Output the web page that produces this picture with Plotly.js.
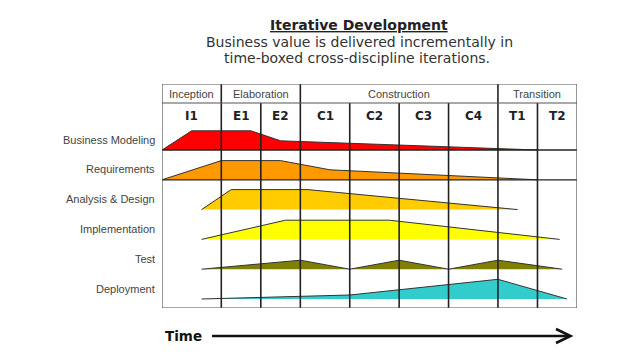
<!DOCTYPE html>
<html><head><meta charset="utf-8">
<script src="https://cdn.plot.ly/plotly-3.0.1.min.js"></script>
<style>html,body{margin:0;padding:0;background:#fff;} #chart{width:640px;height:360px;}</style>
</head><body><div id="chart"></div>
<script>
// ---- data ----
const iterations = ['I1','E1','E2','C1','C2','C3','C4','T1','T2'];
const iterationWeeks = [12,8,8,10,10,10,10,8,8];
const phases = ['Inception','Elaboration','Construction','Transition'];
const phaseIterationCounts = [1,2,4,2];
const disciplines = ['Business Modeling','Requirements','Analysis & Design','Implementation','Test','Deployment'];

const businessModelingWeeks  = [0, 6, 18, 24, 76];
const businessModelingEffort = [0, 9.6, 9.6, 4.6, 0];
const requirementsWeeks  = [0, 12, 24, 34, 76];
const requirementsEffort = [0, 9.6, 9.6, 5, 0];
const analysisDesignWeeks  = [8, 14, 29.5, 72];
const analysisDesignEffort = [0, 10, 10, 0];
const implementationWeeks  = [8, 25, 46, 80.5];
const implementationEffort = [0, 9.6, 9.6, 0];
const testWeeks  = [8, 28, 38, 48, 58, 68, 81];
const testEffort = [0, 4.5, 0, 4.5, 0, 4.5, 0];
const deploymentWeeks  = [8, 38, 68, 82];
const deploymentEffort = [0, 2, 9.85, 0];

// ---- styles / layout ----
const disciplineColors = ['#ff0000','#ff9900','#ffcc00','#ffff00','#808000','#33cccc'];
const fullBaseline = [true, true, false, false, false, false];
const series = [
  [businessModelingWeeks, businessModelingEffort],
  [requirementsWeeks, requirementsEffort],
  [analysisDesignWeeks, analysisDesignEffort],
  [implementationWeeks, implementationEffort],
  [testWeeks, testEffort],
  [deploymentWeeks, deploymentEffort]
];

const edges = [0];
iterationWeeks.forEach(w => edges.push(edges[edges.length-1] + w));
const total = edges[edges.length-1];
const phaseEdges = [0];
{ let k = 0; phaseIterationCounts.forEach(c => { k += c; phaseEdges.push(edges[k]); }); }

const Y_TOP = 112, Y_HEADER = 102.5, LANE0 = 4.5, LANE_STEP = 14.9;
const n = disciplines.length;
const baseOf = i => LANE0 + LANE_STEP * (n - 1 - i);

const L = 162, R = 63, T = 84, B = 52, W = 640, H = 360;
const pw = W - L - R, ph = H - T - B;
const px = x => (x - L) / pw;
const py = y => (H - B - y) / ph;

const traces = series.map((s, i) => ({
  type: 'scatter', mode: 'lines', fill: 'toself',
  x: s[0], y: s[1].map(v => v + baseOf(i)),
  fillcolor: disciplineColors[i],
  line: {color: '#333', width: 1},
  hoverinfo: 'skip'
}));

const shapes = [];
// full baselines
disciplines.forEach((d, i) => {
  if (fullBaseline[i]) shapes.push({type:'line', xref:'x', yref:'y', x0: edges[0], x1: total, y0: baseOf(i), y1: baseOf(i), line:{color:'#222', width:1.3}, layer:'above'});
});
// internal verticals
edges.slice(1, -1).forEach(e => {
  const isPhase = phaseEdges.includes(e);
  shapes.push({type:'line', xref:'x', yref:'y', x0:e, x1:e, y0:0, y1: isPhase ? Y_TOP : Y_HEADER, line:{color:'#222', width:1.6}, layer:'above'});
});
// header divider and border
shapes.push({type:'line', xref:'x', yref:'y', x0:0, x1:total, y0:Y_HEADER, y1:Y_HEADER, line:{color:'#555', width:1.2}, layer:'above'});
shapes.push({type:'rect', xref:'x', yref:'y', x0:0, x1:total, y0:0, y1:Y_TOP, line:{color:'#555', width:1.2}, layer:'above'});
// time arrow
shapes.push({type:'line', xref:'paper', yref:'paper', x0:px(212), x1:px(570), y0:py(336), y1:py(336), line:{color:'#111', width:2.6}});
shapes.push({type:'path', xref:'paper', yref:'paper', path:`M ${px(556)} ${py(329)} L ${px(570.5)} ${py(336)} L ${px(556)} ${py(343)}`, line:{color:'#111', width:2.6}});

const annotations = [];
// title
annotations.push({xref:'paper', yref:'paper', x:px(359), y:py(25), xanchor:'center', yanchor:'middle', showarrow:false,
  text:'<b><u>Iterative Development</u></b>', font:{family:'DejaVu Sans', size:14, color:'#222'}});
annotations.push({xref:'paper', yref:'paper', x:px(359), y:py(41.5), xanchor:'center', yanchor:'middle', showarrow:false,
  text:'Business value is delivered incrementally in', font:{family:'DejaVu Sans', size:14, color:'#333'}});
annotations.push({xref:'paper', yref:'paper', x:px(357), y:py(58.5), xanchor:'center', yanchor:'middle', showarrow:false,
  text:'time-boxed cross-discipline iterations.', font:{family:'DejaVu Sans', size:14, color:'#333'}});
// phases
phases.forEach((p, i) => annotations.push({xref:'x', yref:'y', x:(phaseEdges[i]+phaseEdges[i+1])/2, y:(Y_TOP+Y_HEADER)/2,
  xanchor:'center', yanchor:'middle', showarrow:false, text:p, font:{family:'Liberation Sans', size:11, color:'#444'}}));
// iterations
iterations.forEach((it, i) => annotations.push({xref:'x', yref:'y', x:(edges[i]+edges[i+1])/2, y:96.2,
  xanchor:'center', yanchor:'middle', showarrow:false, text:'<b>'+it+'</b>', font:{family:'DejaVu Sans', size:12, color:'#222'}}));
// discipline labels
disciplines.forEach((d, i) => annotations.push({xref:'paper', yref:'y', x:px(156.5), y:baseOf(i)+5.2,
  xanchor:'right', yanchor:'middle', showarrow:false, text:d, font:{family:'Liberation Sans', size:11, color:'#444'}}));
// time label
annotations.push({xref:'paper', yref:'paper', x:px(163), y:py(336), xanchor:'left', yanchor:'middle', showarrow:false,
  text:'<b>Time</b>', font:{family:'DejaVu Sans', size:13.5, color:'#111'}});

const layout = {
  width: W, height: H, margin: {l:L, r:R, t:T, b:B, pad:0},
  paper_bgcolor:'#fff', plot_bgcolor:'#fff', showlegend:false,
  xaxis: {range:[0, total], visible:false, fixedrange:true},
  yaxis: {range:[0, Y_TOP], visible:false, fixedrange:true},
  shapes, annotations
};
Plotly.newPlot('chart', traces, layout, {staticPlot:true, displayModeBar:false});
</script></body></html>
